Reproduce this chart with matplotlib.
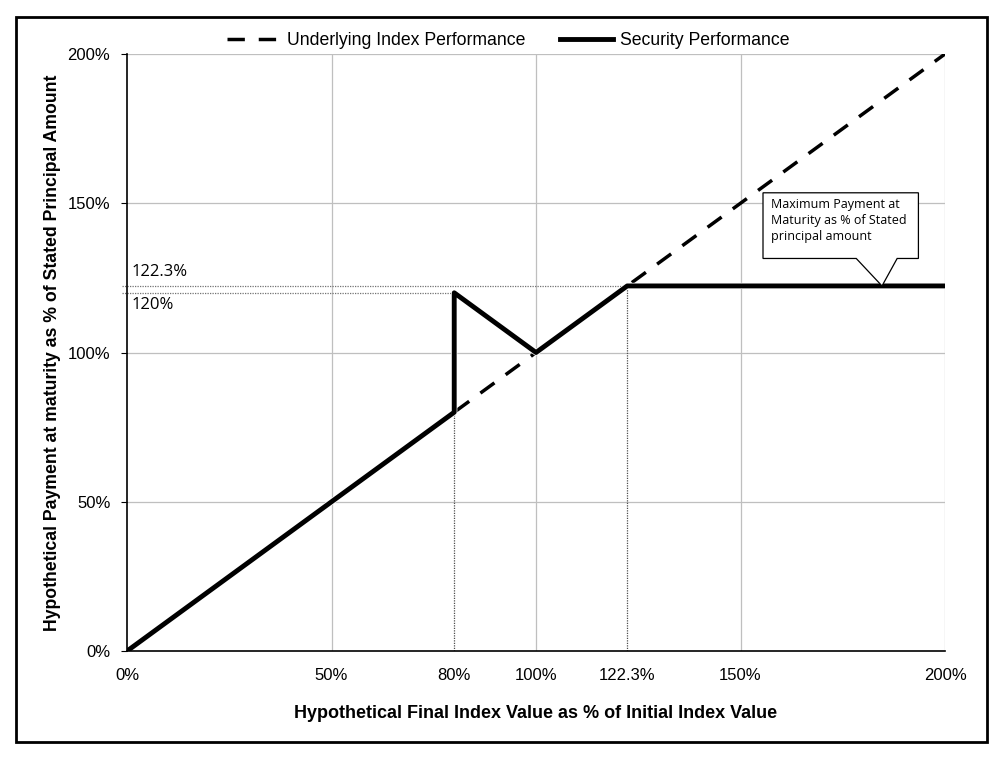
import matplotlib
matplotlib.use("Agg")
import matplotlib.pyplot as plt
from matplotlib.patches import Rectangle, Polygon

# index level (% of initial) vs payment (% of principal)
index_x = [0, 200]
index_y = [0, 200]
security_x = [0, 80, 80, 100, 122.3, 200]
security_y = [0, 80, 120, 100, 122.3, 122.3]
cap_level = 122.3
digital_level = 120
barrier = 80
xticks = [0, 50, 80, 100, 122.3, 150, 200]
xtick_labels = ["0%", "50%", "80%", "100%", "122.3%", "150%", "200%"]
yticks = [0, 50, 100, 150, 200]
ytick_labels = ["0%", "50%", "100%", "150%", "200%"]

plt.rcParams["font.family"] = ["Liberation Sans", "DejaVu Sans"]
calibri_ish = ["Open Sans", "DejaVu Sans"]

fig = plt.figure(figsize=(10.05, 7.69), dpi=100)
ax = fig.add_axes([0.1264, 0.1534, 0.8139, 0.7764])

# outer frame
fig.patches.append(Rectangle((16 / 1005, 1 - 742 / 769), 971 / 1005, 725 / 769,
                             transform=fig.transFigure, fill=False, lw=2, ec="black"))

ax.set_xlim(0, 200); ax.set_ylim(0, 200)
ax.set_xticks(xticks, xtick_labels, fontsize=12)
ax.set_yticks(yticks, ytick_labels, fontsize=12)
ax.tick_params(axis="x", length=0, pad=12)
ax.tick_params(axis="y", length=4, direction="out", pad=8)
for x in [50, 100, 150, 200]:
    ax.axvline(x, color="#bfbfbf", lw=0.9, zorder=0)
for y in [50, 100, 150, 200]:
    ax.axhline(y, color="#bfbfbf", lw=0.9, zorder=0)
ax.spines["top"].set_visible(False)
ax.spines["right"].set_visible(False)
ax.spines["left"].set_linewidth(1.2)
ax.spines["bottom"].set_linewidth(1.2)

# thin dotted reference lines
ax.plot([-1.2, cap_level], [cap_level, cap_level], color="0.45", lw=0.9, ls=(0, (1, 1)), clip_on=False)
ax.plot([-1.2, barrier], [digital_level, digital_level], color="0.45", lw=0.9, ls=(0, (1, 1)), clip_on=False)
ax.plot([barrier, barrier], [0, digital_level], color="0.3", lw=0.9, ls=(0, (1, 1)))
ax.plot([cap_level, cap_level], [0, cap_level], color="0.3", lw=0.9, ls=(0, (1, 1)))
ax.text(1.0, cap_level + 2, "122.3%", fontsize=12, family=calibri_ish, va="bottom")
ax.text(1.2, digital_level - 1.5, "120%", fontsize=12, family=calibri_ish, va="top")

ax.plot(index_x, index_y, color="black", lw=2.5, ls=(0, (5, 4)), label="Underlying Index Performance", zorder=2)
ax.plot(security_x, security_y, color="white", lw=4.5, zorder=2.5, solid_capstyle="butt")
ax.plot(security_x, security_y, color="black", lw=3.5, label="Security Performance", zorder=3)

# callout box
bx0, bx1, by0, by1 = 155.5, 193.5, 131.5, 153.5
tip = (184.6, cap_level)
callout = Polygon([(bx0, by1), (bx1, by1), (bx1, by0), (188.3, by0), tip, (178.3, by0), (bx0, by0)],
                  closed=True, fc="white", ec="black", lw=0.9, zorder=4)
ax.add_patch(callout)
ax.text(bx0 + 2.0, by1 - 1.6, "Maximum Payment at\nMaturity as % of Stated\nprincipal amount",
        fontsize=9, family=calibri_ish, va="top", ha="left", linespacing=1.3, zorder=5)

ax.set_xlabel("Hypothetical Final Index Value as % of Initial Index Value",
              fontsize=13, fontweight="bold", labelpad=16)
ax.set_ylabel("Hypothetical Payment at maturity as % of Stated Principal Amount",
              fontsize=12.7, fontweight="bold", labelpad=5)

ax.legend(loc="lower center", bbox_to_anchor=(0.466, 0.996), ncol=2, frameon=False,
          fontsize=12.7, handlelength=3, columnspacing=2.0, handletextpad=0.4,
          borderaxespad=0)

fig.savefig("out.png", dpi=100)
